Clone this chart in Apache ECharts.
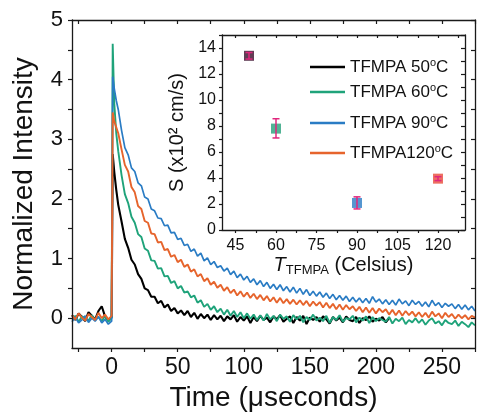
<!DOCTYPE html>
<html><head><meta charset="utf-8">
<script src="https://cdn.jsdelivr.net/npm/echarts@6/dist/echarts.min.js"></script>
<style>html,body{margin:0;padding:0;background:#fff}#c{width:480px;height:412px}</style>
</head><body><div id="c"></div>
<script>
// ---- data ----
const times = [-30,-27.5,-25,-22.5,-20,-17.5,-15,-12.5,-10,-7.5,-5,-2.5,0,
0.8,2,3.5,5,
7.5,10,12.5,15,17.5,20,22.5,25,27.5,30,
32.5,35,37.5,40,42.5,45,47.5,50,52.5,55,
57.5,60,62.5,65,67.5,70,72.5,75,77.5,80,
82.5,85,87.5,90,92.5,95,97.5,100,102.5,105,
107.5,110,112.5,115,117.5,120,122.5,125,127.5,130,
132.5,135,137.5,140,142.5,145,147.5,150,152.5,155,
157.5,160,162.5,165,167.5,170,172.5,175,177.5,180,
182.5,185,187.5,190,192.5,195,197.5,200,202.5,205,
207.5,210,212.5,215,217.5,220,222.5,225,227.5,230,
232.5,235,237.5,240,242.5,245,247.5,250,252.5,255,
257.5,260,262.5,265,267.5,270,272.5,275];

const black50 = [0.05,-0.03,0.08,0.02,-0.05,0.1,0.04,-0.02,0.12,0.2,0.03,-0.04,0.02,
2.75,2.45,2.15,1.9,
1.62,1.33,1.18,0.98,0.9,0.74,0.66,0.5,0.47,0.36,
0.36,0.25,0.29,0.18,0.23,0.12,0.17,0.08,0.13,0.05,
0.12,0.02,0.09,-0.01,0.07,0.0,0.06,-0.03,0.05,-0.02,
0.04,-0.05,0.03,-0.02,0.05,-0.06,0.02,-0.04,0.03,-0.08,
0.02,-0.05,0.04,-0.03,0.01,-0.07,0.03,-0.02,0.05,-0.06,
-0.01,0.03,-0.08,0.02,-0.04,0.04,-0.1,0.01,-0.03,0.02,
-0.06,0.03,-0.02,-0.09,0.02,-0.04,0.01,-0.07,0.03,-0.03,
-0.05,0.02,-0.08,0.0,-0.03,0.03,-0.06,-0.01,-0.04,0.02,
-0.07,0.0];

const green60 = [-0.02,0.04,-0.06,0.03,0.0,-0.04,0.05,-0.03,0.02,-0.05,0.04,-0.06,0.0,
4.6,3.6,3.1,2.8,
2.4,2.08,1.93,1.7,1.6,1.41,1.36,1.17,1.13,0.97,
0.96,0.83,0.84,0.7,0.71,0.59,0.62,0.5,0.54,0.43,
0.45,0.35,0.38,0.26,0.3,0.19,0.24,0.14,0.2,0.1,
0.16,0.06,0.14,0.04,0.12,0.02,0.1,0.0,0.08,-0.01,
0.06,-0.03,0.05,-0.04,0.07,-0.02,0.04,-0.05,0.06,-0.01,
0.03,-0.06,0.05,-0.02,0.04,-0.07,0.02,-0.03,0.06,-0.04,
0.01,-0.05,0.04,-0.08,0.02,-0.03,0.05,-0.06,0.0,-0.02,
0.04,-0.07,0.01,-0.04,0.03,-0.08,0.02,-0.05,0.0,-0.03,
-0.06,0.02,-0.09,-0.01,-0.05,0.01,-0.1,-0.03,-0.07,0.0,
-0.08,-0.02,-0.11,-0.04,0.0,-0.09,-0.05,-0.12,-0.03,-0.08,
-0.1,-0.04,-0.13,-0.06,-0.1,-0.15,-0.07,-0.12];

const blue90 = [-0.06,0.02,-0.08,-0.03,0.04,-0.07,0.0,-0.05,0.03,-0.08,-0.02,-0.1,-0.05,
4.05,3.85,3.65,3.5,
3.15,2.86,2.74,2.52,2.46,2.27,2.22,2.03,2.0,1.83,
1.8,1.68,1.67,1.55,1.56,1.43,1.44,1.32,1.34,1.22,
1.24,1.12,1.16,1.04,1.09,0.96,1.01,0.9,0.95,0.85,
0.88,0.79,0.84,0.73,0.79,0.68,0.74,0.64,0.7,0.6,
0.66,0.56,0.63,0.53,0.6,0.5,0.57,0.48,0.56,0.46,
0.53,0.44,0.52,0.42,0.5,0.4,0.48,0.38,0.45,0.37,
0.44,0.35,0.42,0.33,0.4,0.31,0.38,0.3,0.37,0.28,
0.35,0.27,0.34,0.26,0.33,0.25,0.36,0.27,0.32,0.24,
0.31,0.23,0.3,0.22,0.32,0.24,0.29,0.21,0.3,0.23,
0.28,0.2,0.27,0.19,0.3,0.21,0.26,0.18,0.25,0.2,
0.24,0.16,0.23,0.15,0.22,0.14,0.2,0.12];

const orange120 = [0.05,-0.02,0.08,0.01,-0.04,0.07,0.02,-0.03,0.09,0.0,0.06,-0.02,0.04,
3.45,3.3,3.2,3.1,
2.83,2.57,2.46,2.2,2.11,1.88,1.83,1.63,1.6,1.42,
1.41,1.27,1.28,1.14,1.16,1.03,1.06,0.94,0.98,0.86,
0.9,0.78,0.82,0.7,0.74,0.62,0.67,0.56,0.61,0.51,
0.56,0.46,0.52,0.42,0.48,0.38,0.45,0.36,0.43,0.34,
0.41,0.32,0.39,0.3,0.37,0.28,0.35,0.26,0.34,0.25,
0.32,0.24,0.31,0.23,0.3,0.22,0.29,0.2,0.28,0.21,
0.27,0.18,0.26,0.17,0.24,0.15,0.23,0.14,0.22,0.15,
0.2,0.12,0.19,0.1,0.18,0.09,0.17,0.08,0.16,0.1,
0.15,0.06,0.14,0.05,0.13,0.04,0.12,0.05,0.11,0.03,
0.1,0.02,0.09,0.01,0.11,0.03,0.08,0.0,0.09,0.02,
0.07,-0.01,0.06,0.0,0.05,-0.02,0.04,0.01];

const seriesNames = ['TFMPA 50','TFMPA 60','TFMPA 90','TFMPA120'];
const seriesValues = [black50, green60, blue90, orange120];

const mainXTicks = [-25,0,25,50,75,100,125,150,175,200,225,250,275];
const mainXLabels = [0,50,100,150,200,250];
const mainYTicks = [0,0.5,1,1.5,2,2.5,3,3.5,4,4.5,5];
const mainYLabels = [0,1,2,3,4,5];

const insetXTicks = [45,52.5,60,67.5,75,82.5,90,97.5,105,112.5,120,127.5];
const insetXLabels = [45,60,75,90,105,120];
const insetYTicks = [0,1,2,3,4,5,6,7,8,9,10,11,12,13,14,15];
const insetYLabels = [0,2,4,6,8,10,12,14];

const insetTemps = [50,60,90,120];
const insetS = [13.4,7.8,2.08,3.95];
const insetErrLow = [13.15,7.08,1.62,3.8];
const insetErrHigh = [13.65,8.56,2.55,4.1];

// ---- styles ----
const FONT = 'Liberation Sans, Arial, Helvetica, sans-serif';
const lineColors = ['#000000','#1fa37a','#2a7cc4','#e6642c'];
const lineWidths = [2.1,1.9,1.7,1.9];
const markerColors = ['#3a0d2a','#27a07a','#2a7cc4','#e84c3a'];
const axisLine = {show:true, onZero:false, lineStyle:{color:'#1a1a1a', width:1.3}};

function ax(base){
  return Object.assign({type:'value', splitLine:{show:false}, axisLine: axisLine, z: base.gridIndex ? 11 : 3}, base);
}

const chart = echarts.init(document.getElementById('c'), null, {renderer:'canvas'});
const option = {
  animation:false,
  backgroundColor:'#fff',
  grid:[
    {left:72, top:20, right:5, bottom:64, outerBoundsMode:'none', containLabel:false},
    {left:222, top:35, right:15, bottom:182, outerBoundsMode:'none', containLabel:false,
     show:true, backgroundColor:'#fff', borderWidth:0, z:10}
  ],
  xAxis:[
    ax({gridIndex:0, position:'bottom', min:-30, max:275,
      axisTick:{show:true, inside:false, length:4, customValues:mainXTicks, lineStyle:{color:'#1a1a1a', width:1.2}},
      axisLabel:{show:true, customValues:mainXLabels, fontSize:23, color:'#111', margin:8, fontFamily:FONT},
      name:'Time (\u03bcseconds)', nameLocation:'middle', nameGap:32,
      nameTextStyle:{fontSize:28, color:'#111', fontFamily:FONT}}),
    ax({gridIndex:0, position:'top', min:-30, max:275,
      axisTick:{show:true, inside:true, length:4, customValues:mainXTicks, lineStyle:{color:'#1a1a1a', width:1.2}},
      axisLabel:{show:false}}),
    ax({gridIndex:1, position:'bottom', min:40, max:130,
      axisTick:{show:true, inside:false, length:3, customValues:insetXTicks, lineStyle:{color:'#1a1a1a', width:1.2}},
      axisLabel:{show:true, customValues:insetXLabels, fontSize:16, color:'#111', margin:8, fontFamily:FONT},
      name:'{it|T}{sub|TFMPA} (Celsius)', nameLocation:'middle', nameGap:24,
      nameTextStyle:{fontSize:20, color:'#111', fontFamily:FONT, lineHeight:22,
        rich:{it:{fontSize:20, fontStyle:'italic', color:'#111', fontFamily:FONT, lineHeight:22},
              sub:{fontSize:13, color:'#111', fontFamily:FONT, verticalAlign:'bottom', lineHeight:16}}}}),
    ax({gridIndex:1, position:'top', min:40, max:130,
      axisTick:{show:true, inside:true, length:3, customValues:insetXTicks, lineStyle:{color:'#1a1a1a', width:1.2}},
      axisLabel:{show:false}})
  ],
  yAxis:[
    ax({gridIndex:0, position:'left', min:-0.5, max:5,
      axisTick:{show:true, inside:false, length:4, customValues:mainYTicks, lineStyle:{color:'#1a1a1a', width:1.2}},
      axisLabel:{show:true, customValues:mainYLabels, fontSize:22, color:'#111', margin:9, fontFamily:FONT},
      name:'Normalized Intensity', nameLocation:'middle', nameGap:34, nameRotate:90,
      nameTextStyle:{fontSize:28, color:'#111', fontFamily:FONT}}),
    ax({gridIndex:0, position:'right', min:-0.5, max:5,
      axisTick:{show:true, inside:true, length:4, customValues:mainYTicks, lineStyle:{color:'#1a1a1a', width:1.2}},
      axisLabel:{show:false}}),
    ax({gridIndex:1, position:'left', min:0, max:15,
      axisTick:{show:true, inside:false, length:3, customValues:insetYTicks, lineStyle:{color:'#1a1a1a', width:1.2}},
      axisLabel:{show:true, customValues:insetYLabels, fontSize:16, color:'#111', margin:6, fontFamily:FONT},
      name:'S (x10\u00b2 cm/s)', nameLocation:'middle', nameGap:31, nameRotate:90,
      nameTextStyle:{fontSize:20, color:'#111', fontFamily:FONT}}),
    ax({gridIndex:1, position:'right', min:0, max:15,
      axisTick:{show:true, inside:true, length:4, customValues:insetYTicks, lineStyle:{color:'#1a1a1a', width:1.2}},
      axisLabel:{show:false}})
  ],
  legend: seriesNames.map((n,i)=>({
    data:[n], left:305, top:[52,77,108,138][i], orient:'horizontal',
    itemWidth:35, itemHeight:2.5, itemGap:4, icon:'rect', selectedMode:false, z:20,
    formatter: name => name + '{sup|o}C',
    textStyle:{fontSize:17, color:'#111', fontFamily:FONT, lineHeight:20,
      rich:{sup:{fontSize:11, color:'#111', fontFamily:FONT, verticalAlign:'top', lineHeight:12}}}
  })),
  series: seriesValues.map((vals,i)=>({
    name: seriesNames[i], type:'line', xAxisIndex:0, yAxisIndex:0,
    data: vals.map((v,j)=>[times[j], v]),
    showSymbol:false, symbol:'none', z:2,
    color: lineColors[i], itemStyle:{color: lineColors[i]},
    lineStyle:{color: lineColors[i], width: lineWidths[i]}
  })).concat([
    {type:'scatter', xAxisIndex:2, yAxisIndex:2, z:12, symbol:'rect', symbolSize:10,
     data: insetTemps.map((t,i)=>({value:[t, insetS[i]], itemStyle:{color: markerColors[i]}}))},
    {type:'custom', xAxisIndex:2, yAxisIndex:2, z:13,
     data: insetTemps.map((t,i)=>[t, insetS[i], insetErrLow[i], insetErrHigh[i]]),
     encode:{x:0, y:1},
     renderItem(params, api){
       const x = api.value(0);
       const lo = api.coord([x, api.value(2)]);
       const hi = api.coord([x, api.value(3)]);
       const w = 3.5;
       const st = {stroke:'#e0267d', lineWidth:1.5};
       return {type:'group', children:[
         {type:'line', shape:{x1:lo[0], y1:lo[1], x2:hi[0], y2:hi[1]}, style:st},
         {type:'line', shape:{x1:lo[0]-w, y1:lo[1], x2:lo[0]+w, y2:lo[1]}, style:st},
         {type:'line', shape:{x1:hi[0]-w, y1:hi[1], x2:hi[0]+w, y2:hi[1]}, style:st}
       ]};
     }}
  ])
};
chart.setOption(option);
</script></body></html>
